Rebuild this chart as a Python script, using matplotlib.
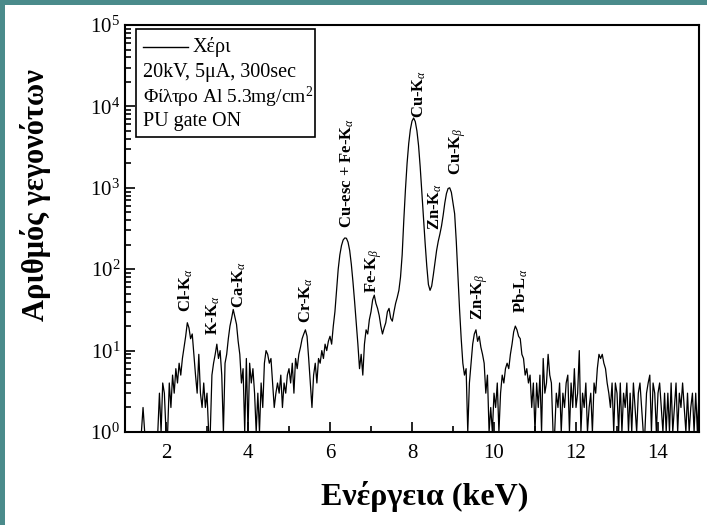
import numpy as np
import matplotlib.pyplot as plt
from matplotlib.patches import Rectangle
from matplotlib.ticker import FixedLocator, FixedFormatter, NullFormatter

plt.rcParams['font.family'] = 'serif'
plt.rcParams['font.serif'] = ['Liberation Serif', 'DejaVu Serif']
plt.rcParams['mathtext.fontset'] = 'custom'
plt.rcParams['mathtext.rm'] = 'Liberation Serif'
plt.rcParams['mathtext.it'] = 'Liberation Serif:italic'
plt.rcParams['mathtext.bf'] = 'Liberation Serif:bold'

# counts per channel, 0.04 keV channels starting at 1.40 keV
counts = [
    1, 2, 1, 1, 1, 1, 1, 1, 1, 1,                              # 1.40
    1, 3, 1, 4, 3, 1, 1, 4, 2, 5,                              # 1.80
    3, 6, 4, 7, 5, 8, 11, 15, 22, 19,                          # 2.20
    14, 16, 9, 5, 3, 9, 3, 2, 4, 2,                            # 2.60
    3, 1, 1, 5, 7, 9, 12, 8, 10, 5,                            # 3.00
    1, 7, 9, 14, 20, 25, 32, 26, 21, 13,                       # 3.40
    9, 4, 6, 1, 8, 1, 7, 4, 6, 3,                              # 3.80
    1, 3, 1, 4, 2, 7, 10, 9, 7, 8,                             # 4.20
    4, 2, 3, 4, 3, 5, 2, 4, 3, 5,                              # 4.60
    6, 4, 7, 3, 8, 6, 9, 11, 14, 16,                           # 5.00
    18, 15, 8, 4, 2, 5, 7, 4, 8, 7,                            # 5.40
    10, 8, 12, 10, 13, 15, 12, 20, 30, 55,                     # 5.80
    100, 150, 195, 228, 242, 240, 215, 170, 115, 70,           # 6.20
    40, 22, 12, 6, 9, 5, 12, 18, 16, 24,                       # 6.60
    30, 42, 48, 38, 33, 27, 20, 16, 19, 22,                    # 7.00
    30, 33, 25, 23, 30, 38, 45, 55, 80, 150,                   # 7.40
    400, 950, 2000, 3500, 5200, 6600, 7200, 6500, 5000, 3300,  # 7.80
    1800, 900, 430, 210, 110, 65, 55, 62, 85, 120,             # 8.20
    170, 220, 270, 340, 460, 650, 850, 980, 1000, 880,         # 8.60
    650, 480, 220, 85, 32, 14, 7, 5, 6, 1,                     # 9.00
    4, 7, 12, 16, 18, 13, 15, 11, 9, 7,                        # 9.40
    3, 5, 1, 2, 1, 3, 2, 4, 1, 3,                              # 9.80
    5, 4, 6, 7, 6, 9, 12, 17, 20, 18,                          # 10.20
    15, 14, 9, 8, 5, 6, 4, 5, 2, 4,                            # 10.60
    1, 4, 2, 5, 1, 8, 3, 4, 9, 5,                              # 11.00
    4, 1, 1, 3, 2, 4, 1, 3, 2, 4,                              # 11.40
    5, 1, 4, 2, 6, 2, 3, 10, 1, 3,                             # 11.80
    2, 4, 1, 2, 3, 1, 4, 3, 6, 9,                              # 12.20
    8, 9, 7, 6, 4, 3, 2, 4, 1, 4,                              # 12.60
    3, 1, 4, 1, 3, 2, 4, 1, 3, 1,                              # 13.00
    4, 2, 1, 3, 4, 2, 1, 1, 3, 4,                              # 13.40
    5, 1, 4, 3, 1, 3, 4, 2, 1, 3,                              # 13.80
    1, 3, 1, 4, 1, 2, 4, 1, 3, 2,                              # 14.20
    4, 2, 1, 3, 1, 2, 3, 1, 3, 1,                              # 14.60
    3,                                                         # 15.00
]
energy = np.round(1.40 + 0.04 * np.arange(len(counts)), 2)

ytick_vals = [1, 10, 100, 1000, 10000, 100000]
ytick_labels = ['$10^0$', '$10^1$', '$10^2$', '$10^3$', '$10^4$', '$10^5$']
xtick_vals = [2, 4, 6, 8, 10, 12, 14]

# peak labels: text, energy, count at bottom of label
peak_labels = [
    (r'Cl-K$_\alpha$', 2.48, 30),
    (r'K-K$_\alpha$', 3.15, 15.5),
    (r'Ca-K$_\alpha$', 3.80, 33),
    (r'Cr-K$_\alpha$', 5.41, 22),
    (r'Cu-esc + Fe-K$_\alpha$', 6.41, 320),
    (r'Fe-K$_\beta$', 7.07, 51),
    (r'Cu-K$_\alpha$', 8.17, 7200),
    (r'Zn-K$_\alpha$', 8.56, 300),
    (r'Cu-K$_\beta$', 9.12, 1430),
    (r'Zn-K$_\beta$', 9.66, 24),
    (r'Pb-L$_\alpha$', 10.66, 29),
]

fig = plt.figure(figsize=(7.07, 5.25), dpi=100)
fig.patch.set_facecolor('white')
teal = '#4a8b8b'
fig.patches.append(Rectangle((0, 1 - 5 / 525), 1, 5 / 525, transform=fig.transFigure,
                             facecolor=teal, edgecolor='none', zorder=0))
fig.patches.append(Rectangle((0, 0), 5 / 707, 1, transform=fig.transFigure,
                             facecolor=teal, edgecolor='none', zorder=0))

ax = fig.add_axes([125 / 707, 93 / 525, 574 / 707, 407 / 525])
ax.plot(energy, counts, color='black', lw=0.9)
ax.set_yscale('log')
ax.set_xlim(1, 15)
ax.set_ylim(1, 1e5)

ax.yaxis.set_major_locator(FixedLocator(ytick_vals))
ax.yaxis.set_major_formatter(FixedFormatter(ytick_labels))
minors = [m * d for d in ytick_vals[:-1] for m in range(2, 10)]
ax.yaxis.set_minor_locator(FixedLocator(minors))
ax.yaxis.set_minor_formatter(NullFormatter())
ax.xaxis.set_major_locator(FixedLocator(xtick_vals))
ax.xaxis.set_minor_locator(FixedLocator([3, 5, 7, 9, 11, 13]))
ax.tick_params(which='both', direction='in', top=False, right=False, labelsize=15, width=1.2)
ax.tick_params(which='major', length=7)
ax.tick_params(which='minor', length=4)
ax.tick_params(axis='x', pad=9)
for s in ax.spines.values():
    s.set_linewidth(1.5)

fig.text(425 / 707, 28 / 525, 'Ενέργεια (keV)', ha='center', va='center',
         fontsize=23, fontweight='bold')
fig.text(36 / 707, 330 / 525, 'Αριθμός γεγονότων', ha='center', va='center',
         rotation=90, fontsize=22, fontweight='bold')

for txt, xe, yc in peak_labels:
    ax.text(xe, yc, txt, rotation=90, ha='center', va='bottom',
            fontsize=12, fontweight='bold')

# legend box
ax.add_patch(Rectangle((0.019, 0.725), 0.312, 0.265, transform=ax.transAxes,
                       facecolor='white', edgecolor='black', lw=1.2, zorder=3))
ax.plot([0.031, 0.110], [0.946, 0.946], transform=ax.transAxes, color='black', lw=1, zorder=4)
ax.text(0.117, 0.946, 'Χέρι', transform=ax.transAxes, va='center', fontsize=14.5, zorder=4)
ax.text(0.031, 0.884, '20kV, 5μA, 300sec', transform=ax.transAxes, va='center', fontsize=14.5, zorder=4)
ax.text(0.031, 0.821, 'Φίλτρο Al 5.3mg/cm$^2$', transform=ax.transAxes, va='center', fontsize=14, zorder=4)
ax.text(0.031, 0.762, 'PU gate ON', transform=ax.transAxes, va='center', fontsize=14.5, zorder=4)

fig.savefig('out.png', dpi=100)
